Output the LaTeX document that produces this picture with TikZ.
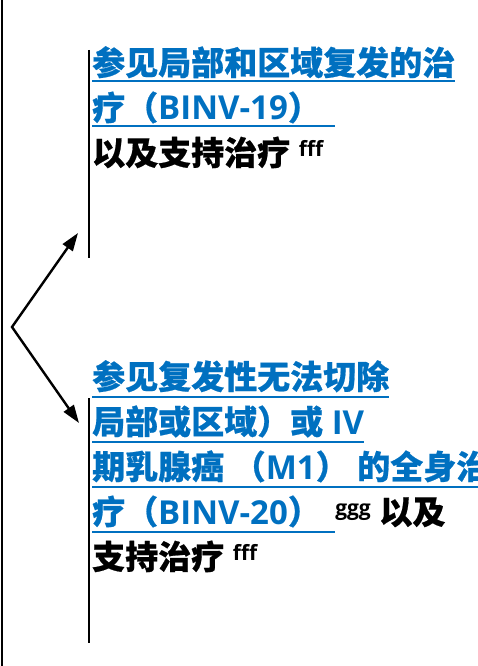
\documentclass[tikz,border=0pt]{standalone}
\usepackage{fontspec}
\setmainfont{Open Sans}
\newfontfamily\cjk{Noto Sans CJK SC}[BoldFeatures={FakeBold=0.6}]
\usetikzlibrary{arrows.meta,positioning}
\definecolor{linkblue}{RGB}{0,112,192}
\newcommand\zh[1]{{\cjk#1}}
\newcommand\fn[1]{\raisebox{9pt}{\fontsize{21pt}{21pt}\selectfont #1}}
\begin{document}
\begin{tikzpicture}[x=1pt,y=-1pt,
    line/.style={anchor=base west,inner sep=0pt,font=\bfseries\fontsize{33pt}{40pt}\selectfont},
    link/.style={line,text=linkblue},
    uline/.style={linkblue,line width=1.6pt},
    bar/.style={line width=2.6pt}]
  \useasboundingbox (0,0) rectangle (477,666);
  \draw[line width=2.4pt] (2,0) -- (2,666);
  % top block
  \node[link] (t1) at (92,75) {\zh{参见局部和区域复发的治}};
  \node[link] (t2) at (92,120) {\zh{疗（}BINV-19\zh{）}\hspace*{14pt}};
  \node[line] (t3) at (92,165) {\zh{以及支持治疗} \fn{fff}};
  \draw[uline] ([yshift=-6pt]t1.base west) -- ([yshift=-6pt]t1.base east);
  \draw[uline] ([yshift=-6pt]t2.base west) -- ([yshift=-6pt]t2.base east);
  % bottom block
  \node[link] (b1) at (92,389) {\zh{参见复发性无法切除}};
  \node[link] (b2) at (92,434) {\zh{局部或区域）或} IV};
  \node[link] (b3) at (92,479) {\zh{期乳腺癌} \zh{（}M1\zh{）} \zh{的全身治}};
  \node[link] (b4) at (92,524) {\zh{疗（}BINV-20\zh{）}\hspace*{14pt}};
  \node[line] (b4x) at (b4.base east) {\fn{ggg} \zh{以及}};
  \node[line] (b5) at (92,569) {\zh{支持治疗} \fn{fff}};
  \draw[uline] ([yshift=-8pt]b1.base west) -- ([yshift=-8pt]b1.base east);
  \draw[uline] ([yshift=-8pt]b2.base west) -- ([yshift=-8pt]b2.base east);
  \draw[uline] ([yshift=-8pt]b3.base west) -- ([yshift=-8pt]b3.base east);
  \draw[uline] ([yshift=-8pt]b4.base west) -- ([yshift=-8pt]b4.base east);
  % bars and arrows
  \coordinate (tb1) at (89,50);
  \coordinate (tb2) at (89,258);
  \coordinate (bb1) at (89,398);
  \coordinate (bb2) at (89,643);
  \coordinate (j) at (12,327);
  \coordinate (ta) at (78,233);
  \coordinate (ba) at (79,423);
  \draw[bar] (tb1) -- (tb2);
  \draw[bar] (bb1) -- (bb2);
  \draw[{Triangle[length=18pt,width=12pt]}-{Triangle[length=18pt,width=12pt]},line width=2.4pt] (ta) -- (j) -- (ba);
\end{tikzpicture}
\end{document}
